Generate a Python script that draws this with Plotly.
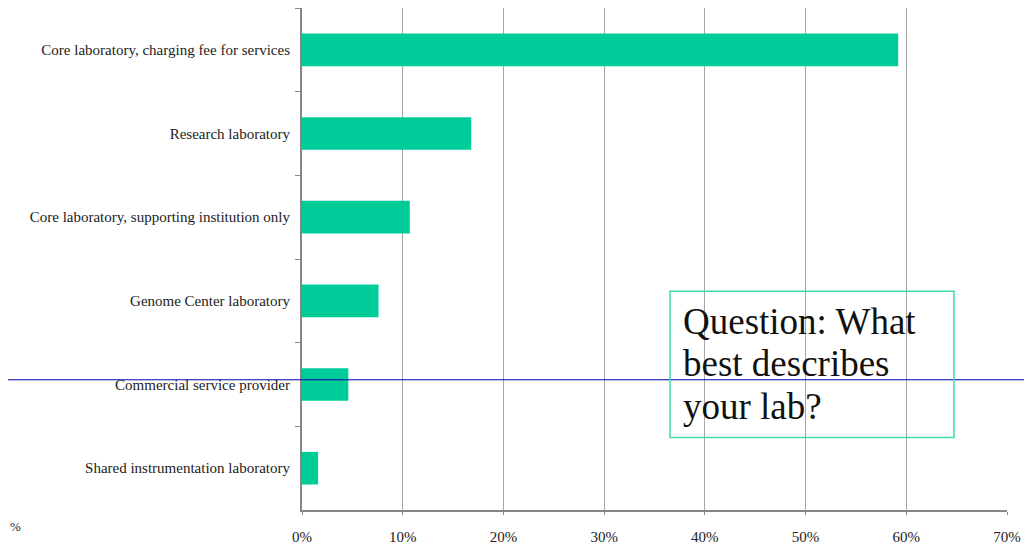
import plotly.graph_objects as go

categories = [
    "Core laboratory, charging fee for services",
    "Research laboratory",
    "Core laboratory, supporting institution only",
    "Genome Center laboratory",
    "Commercial service provider",
    "Shared instrumentation laboratory",
]
values = [0.592, 0.168, 0.107, 0.076, 0.046, 0.016]
x_ticks = [0, 0.1, 0.2, 0.3, 0.4, 0.5, 0.6, 0.7]
x_tick_labels = ["0%", "10%", "20%", "30%", "40%", "50%", "60%", "70%"]
question_lines = ["Question: What", "best describes", "your lab?"]

# page is shown with an 8px body margin, so work in figure coordinates
OFF = 8
W, H = 1032 - OFF, 545 - OFF
L, R, T, B = 302 - OFF, 25, 8 - OFF, 32
pw, ph = W - L - R, H - T - B

def px(x_page):
    return (x_page - OFF - L) / pw

def py(y_page):
    return (H - B - (y_page - OFF)) / ph

fig = go.Figure()
fig.add_trace(go.Bar(
    x=values, y=categories, orientation="h",
    marker=dict(color="#00CC99", line=dict(width=0)),
    width=0.39,
))

serif = "Liberation Serif, Times New Roman, serif"

fig.update_layout(
    width=W, height=H,
    margin=dict(l=L, r=R, t=T, b=B, pad=0),
    plot_bgcolor="white", paper_bgcolor="white",
    showlegend=False,
    font=dict(family=serif, size=15, color="#222222"),
    xaxis=dict(
        range=[0, 0.7], tickvals=x_ticks, ticktext=x_tick_labels,
        showgrid=True, gridcolor="#A6A6A6", gridwidth=1,
        showline=True, linecolor="#868686", linewidth=2,
        ticks="outside", ticklen=3, tickcolor="#868686", tickwidth=1,
        ticklabelstandoff=9, zeroline=False,
        tickfont=dict(family=serif, size=15, color="#222222"),
    ),
    yaxis=dict(
        categoryorder="array", categoryarray=categories,
        autorange="reversed",
        showgrid=False, showline=True, linecolor="#868686", linewidth=2,
        ticks="outside", ticklen=5, tickcolor="#868686", tickwidth=1,
        tickson="boundaries", ticklabelstandoff=7,
        tickfont=dict(family=serif, size=15, color="#222222"),
    ),
)

# blue horizontal line across the whole image
fig.add_shape(type="line", xref="paper", yref="paper",
              x0=px(-20), x1=px(1060), y0=py(382), y1=py(382),
              line=dict(color="#0000B0", width=1), layer="above")

# question box
fig.add_shape(type="rect", xref="paper", yref="paper",
              x0=px(670), x1=px(954), y0=py(440), y1=py(293),
              line=dict(color="#40D8B0", width=1.5), fillcolor="rgba(0,0,0,0)",
              layer="above")
baselines = [335, 378, 421]
for line, yb in zip(question_lines, baselines):
    fig.add_annotation(
        xref="paper", yref="paper", x=px(681), y=py(yb - 12),
        xanchor="left", yanchor="middle", showarrow=False,
        text=line, font=dict(family=serif, size=37, color="#111111"),
    )

# stray label at far left
fig.add_annotation(
    xref="paper", yref="paper", x=px(8), y=py(530),
    xanchor="left", yanchor="middle", showarrow=False,
    text="%", font=dict(family=serif, size=13, color="#222222"),
)

fig.write_html("out.html")
